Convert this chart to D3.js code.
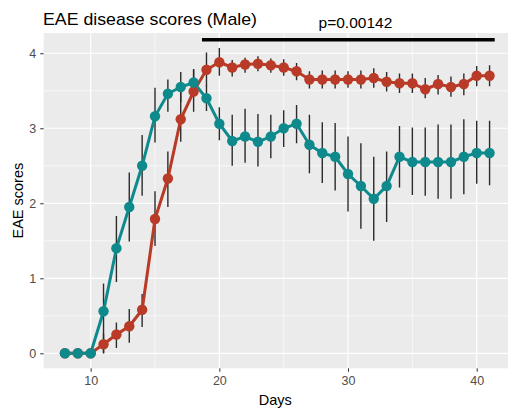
<!DOCTYPE html>
<html>
<head>
<meta charset="utf-8">
<script src="https://cdn.jsdelivr.net/npm/d3@7"></script>
<style>
  body { margin: 0; background: #fff; }
  text { font-family: "Liberation Sans", Arial, sans-serif; }
</style>
</head>
<body>
<svg id="fig" width="508" height="410"></svg>
<script>
// data
const days = d3.range(8, 42)
const redMean = [0,0,0,0.12,0.25,0.36,0.58,1.79,2.33,3.12,3.49,3.78,3.88,3.81,3.85,3.86,3.84,3.81,3.76,3.65,3.65,3.65,3.65,3.65,3.67,3.62,3.60,3.60,3.52,3.59,3.55,3.59,3.70,3.70]
const redLo   = [0,0,0,0,0.07,0.14,0.35,1.43,1.95,2.82,3.22,3.56,3.70,3.69,3.74,3.76,3.74,3.70,3.64,3.53,3.53,3.53,3.54,3.53,3.54,3.49,3.47,3.47,3.40,3.45,3.42,3.44,3.56,3.56]
const redHi   = [0,0,0,0.26,0.41,0.59,0.79,2.16,2.69,3.51,3.79,4.01,4.07,3.91,3.94,3.96,3.93,3.92,3.87,3.76,3.77,3.77,3.76,3.77,3.80,3.75,3.73,3.73,3.67,3.71,3.69,3.73,3.83,3.84]
const tealMean = [0,0,0,0.56,1.40,1.95,2.50,3.16,3.46,3.55,3.61,3.40,3.06,2.83,2.89,2.82,2.89,3.00,3.06,2.78,2.67,2.62,2.39,2.23,2.06,2.23,2.62,2.55,2.55,2.55,2.55,2.62,2.67,2.67]
const tealLo   = [0,0,0,0.0,0.95,1.49,2.10,2.81,3.22,3.35,3.45,3.23,2.84,2.50,2.54,2.49,2.60,2.75,2.80,2.40,2.27,2.17,1.89,1.66,1.50,1.75,2.21,2.11,2.10,2.06,2.06,2.12,2.26,2.24]
const tealHi   = [0,0,0,0.93,1.83,2.41,2.91,3.54,3.65,3.75,3.78,3.57,3.28,3.18,3.26,3.19,3.18,3.24,3.31,3.18,3.08,3.07,2.89,2.80,2.62,2.69,3.03,3.01,3.01,3.05,3.05,3.12,3.10,3.10]
const xTicks = [10, 20, 30, 40]
const yTicks = [0, 1, 2, 3, 4]
const sigFrom = 18.65, sigTo = 41.4, sigLevel = 4.18
const pLabel = "p=0.00142"
const title = "EAE disease scores (Male)"

const series = [
  {name: "red", color: "#B93A26", mean: redMean, lo: redLo, hi: redHi},
  {name: "teal", color: "#0F8A8C", mean: tealMean, lo: tealLo, hi: tealHi}
]
series.forEach(s => s.rows = days.map((d, i) => ({day: d, m: s.mean[i], lo: s.lo[i], hi: s.hi[i]})))

const pLeft = 43.7, pRight = 510.8, pTop = 33, pBottom = 368.3
const xScale = d3.scaleLinear().domain([6.35, 42.65]).range([pLeft, pRight])
const yScale = d3.scaleLinear().domain([-0.2, 4.27]).range([pBottom, pTop])

const Fig = d3.select("#fig")

// panel
Fig.append("rect").attr("x", pLeft).attr("y", pTop)
  .attr("width", pRight - pLeft).attr("height", pBottom - pTop).attr("fill", "#EBEBEB")

// minor grid
const grid = Fig.append("g")
grid.selectAll(".xminor").data([15, 25, 35]).join("line")
  .attr("x1", d => xScale(d)).attr("x2", d => xScale(d)).attr("y1", pTop).attr("y2", pBottom)
  .attr("stroke", "#fff").attr("stroke-width", 0.6)
grid.selectAll(".yminor").data([0.5, 1.5, 2.5, 3.5]).join("line")
  .attr("y1", d => yScale(d)).attr("y2", d => yScale(d)).attr("x1", pLeft).attr("x2", pRight)
  .attr("stroke", "#fff").attr("stroke-width", 0.6)
// major grid
grid.selectAll(".xmajor").data(xTicks).join("line")
  .attr("x1", d => xScale(d)).attr("x2", d => xScale(d)).attr("y1", pTop).attr("y2", pBottom)
  .attr("stroke", "#fff").attr("stroke-width", 1.2)
grid.selectAll(".ymajor").data(yTicks).join("line")
  .attr("y1", d => yScale(d)).attr("y2", d => yScale(d)).attr("x1", pLeft).attr("x2", pRight)
  .attr("stroke", "#fff").attr("stroke-width", 1.2)

// error bars
series.forEach(s => {
  Fig.append("g").selectAll("line").data(s.rows).join("line")
    .attr("x1", d => xScale(d.day)).attr("x2", d => xScale(d.day))
    .attr("y1", d => yScale(d.lo)).attr("y2", d => yScale(d.hi))
    .attr("stroke", "#2b2b2b").attr("stroke-width", 1.4)
})

// lines
const line = d3.line().x(d => xScale(d.day)).y(d => yScale(d.m))
series.forEach(s => {
  Fig.append("path").datum(s.rows).attr("d", line)
    .attr("fill", "none").attr("stroke", s.color).attr("stroke-width", 3)
})

// points
series.forEach(s => {
  Fig.append("g").selectAll("circle").data(s.rows).join("circle")
    .attr("cx", d => xScale(d.day)).attr("cy", d => yScale(d.m))
    .attr("r", 5.2).attr("fill", s.color)
})

// axes
const x_axis = d3.axisBottom(xScale).tickValues(xTicks).tickSize(3.5).tickPadding(4).tickFormat(d3.format("d"))
const y_axis = d3.axisLeft(yScale).tickValues(yTicks).tickSize(3.5).tickPadding(4).tickFormat(d3.format("d"))
const gx = Fig.append("g").attr("transform", `translate(0,${pBottom})`).call(x_axis)
const gy = Fig.append("g").attr("transform", `translate(${pLeft},0)`).call(y_axis)
;[gx, gy].forEach(g => {
  g.select(".domain").remove()
  g.selectAll(".tick line").attr("stroke", "#333").attr("stroke-width", 1)
  g.selectAll(".tick text").attr("fill", "#4D4D4D").style("font-size", "12.5px")
    .style("font-family", "Liberation Sans, Arial, sans-serif")
})

// axis titles
Fig.append("text").attr("x", (pLeft + 507) / 2).attr("y", 405)
  .attr("text-anchor", "middle").style("font-size", "14.5px").attr("fill", "#000").text("Days")
Fig.append("text")
  .attr("transform", `translate(23,${(pTop + pBottom) / 2}) rotate(-90)`)
  .attr("text-anchor", "middle").style("font-size", "14.5px").attr("fill", "#000").text("EAE scores")

// title
Fig.append("text").attr("x", 43).attr("y", 25)
  .attr("textLength", 214).attr("lengthAdjust", "spacingAndGlyphs")
  .style("font-size", "17px").attr("fill", "#000").text(title)

// significance bar
Fig.append("line")
  .attr("x1", xScale(sigFrom)).attr("x2", xScale(sigTo))
  .attr("y1", yScale(sigLevel)).attr("y2", yScale(sigLevel))
  .attr("stroke", "#000").attr("stroke-width", 3.6)
Fig.append("text").attr("x", xScale((sigFrom + sigTo) / 2 + 0.55)).attr("y", 28)
  .attr("text-anchor", "middle").style("font-size", "15.5px").attr("fill", "#000").text(pLabel)
</script>
</body>
</html>
